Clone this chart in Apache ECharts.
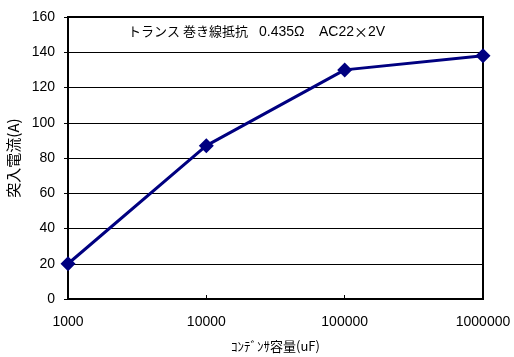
<!DOCTYPE html>
<html><head><meta charset="utf-8">
<script src="https://cdn.jsdelivr.net/npm/echarts@6/dist/echarts.min.js"></script>
<style>html,body{margin:0;padding:0;background:#fff}#c{width:514px;height:357px}</style>
</head><body><div id="c"></div>
<script>
const capacitance = [1000, 10000, 100000, 1000000];
const inrushCurrent = [20, 87, 130, 138];
const noteParts = ['トランス 巻き線抵抗', '0.435Ω', '{n|AC22}{j|×}{n|2V}'];
const xName = 'ｺﾝﾃﾞﾝｻ容量(uF)';
const yName = '突入電流(A)';
const font = '"Noto Sans CJK JP", "DejaVu Sans", sans-serif';
const numFont = 'Arial, "Liberation Sans", sans-serif';
const noteX = [128, 259, 319];
const chart = echarts.init(document.getElementById('c'));
chart.setOption({
  animation: false,
  backgroundColor: '#fff',
  graphic: noteParts.map((t, i) => ({
    type: 'text', left: noteX[i], top: 25, z: 100,
    style: {
      text: t, fill: '#000', fontFamily: i === 0 ? font : numFont, fontSize: i === 0 ? 13 : 14,
      rich: {
        n: { fontFamily: numFont, fontSize: 14, fill: '#000' },
        j: { fontFamily: font, fontSize: 14, fill: '#000' }
      }
    }
  })),
  grid: { left: 68, right: 31, top: 17, bottom: 58, show: true, borderColor: '#000', borderWidth: 2, outerBoundsMode: 'none', containLabel: false },
  xAxis: {
    type: 'log', logBase: 10, min: 1000, max: 1000000,
    name: xName, nameLocation: 'middle', nameGap: 41,
    nameTextStyle: { fontFamily: font, fontSize: 13, color: '#000' },
    axisLine: { lineStyle: { color: '#000', width: 2 } },
    axisTick: { inside: true, length: 4, lineStyle: { color: '#000' } },
    splitLine: { show: false },
    minorTick: { show: false },
    axisLabel: { margin: 16, color: '#000', fontFamily: numFont, fontSize: 14, formatter: v => String(Math.round(v)) }
  },
  yAxis: {
    type: 'value', min: 0, max: 160, interval: 20,
    name: yName, nameLocation: 'middle', nameGap: 43, nameRotate: 90,
    nameTextStyle: { fontFamily: font, fontSize: 15, color: '#000' },
    axisLine: { show: true, lineStyle: { color: '#000', width: 2 } },
    axisTick: { show: true, length: 4, lineStyle: { color: '#000' } },
    splitLine: { lineStyle: { color: '#000', width: 1 } },
    axisLabel: { margin: 13, color: '#000', fontFamily: numFont, fontSize: 14 }
  },
  series: [{
    type: 'line',
    data: capacitance.map((c, i) => [c, inrushCurrent[i]]),
    symbol: 'diamond', symbolSize: 15,
    lineStyle: { color: '#000080', width: 3 },
    itemStyle: { color: '#000080' }
  }]
});
</script></body></html>
